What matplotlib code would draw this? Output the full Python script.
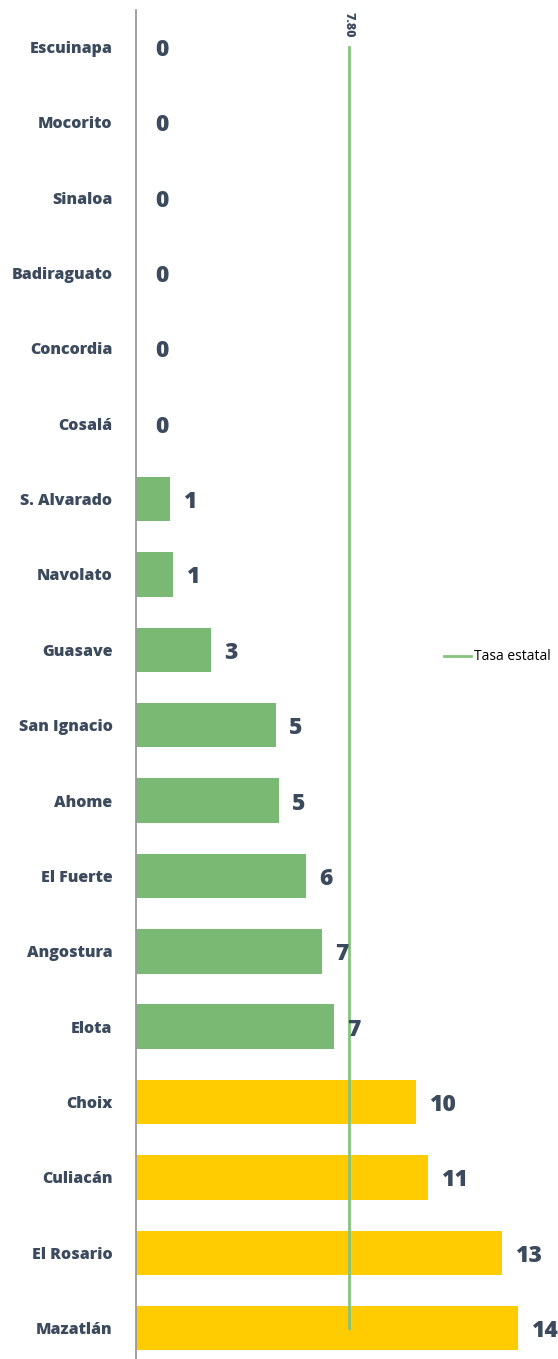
import matplotlib.pyplot as plt
from matplotlib.lines import Line2D

# datos
municipios = ["Escuinapa", "Mocorito", "Sinaloa", "Badiraguato", "Concordia", "Cosalá",
              "S. Alvarado", "Navolato", "Guasave", "San Ignacio", "Ahome", "El Fuerte",
              "Angostura", "Elota", "Choix", "Culiacán", "El Rosario", "Mazatlán"]
tasas = [0, 0, 0, 0, 0, 0, 1.25, 1.34, 2.76, 5.13, 5.25, 6.24, 6.81, 7.24,
         10.26, 10.70, 13.40, 14.00]
tasa_estatal = 7.80

verde = "#79b974"
amarillo = "#fecc00"
texto = "#3b4a5c"

colores = [amarillo if t > tasa_estatal else verde for t in tasas]

W, H = 558, 1359
fig = plt.figure(figsize=(W / 100, H / 100), dpi=100)
ax = fig.add_axes([136 / W, 0, 1 - 136 / W, 1 - 10 / H])

y = list(range(len(municipios)))
ax.barh(y, tasas, height=0.59, color=colores, zorder=2)

# linea de tasa estatal
ax.plot([tasa_estatal, tasa_estatal], [0, len(municipios) - 1], color="#86c47e", lw=2, zorder=3)
ax.text(tasa_estatal, -0.47, f"{tasa_estatal:.2f}", rotation=-90, ha="center", va="top",
        fontsize=9, fontweight="heavy", color=texto, family="Open Sans")

for i, t in enumerate(tasas):
    off = 13 if t > 0 else 19
    ax.annotate(f"{round(t):.0f}", (t, i), xytext=(off, -3), textcoords="offset pixels",
                ha="left", va="center", fontsize=16.5, fontweight="heavy", color=texto,
                family="Open Sans")

ax.set_ylim(len(municipios) - 1 + 0.41, -0.49)
ax.set_xlim(0, (W - 136) / 27.3)
ax.set_yticks(y)
ax.set_yticklabels(municipios, fontsize=11.5, fontweight="heavy", color=texto, family="Open Sans")
ax.tick_params(axis="y", length=0, pad=17)
ax.set_xticks([])
for s in ["top", "right", "bottom"]:
    ax.spines[s].set_visible(False)
ax.spines["left"].set_color("#9a9a9a")
ax.spines["left"].set_linewidth(1.3)

handle = Line2D([], [], color="#86c47e", lw=2)
fig.legend([handle], ["Tasa estatal"], loc="center left", bbox_to_anchor=(431 / W, 1 - 657 / H),
           frameon=False, handlelength=2.0, handletextpad=0.2,
           prop={"family": "Open Sans", "size": 10})

plt.savefig("out.png", dpi=100)
